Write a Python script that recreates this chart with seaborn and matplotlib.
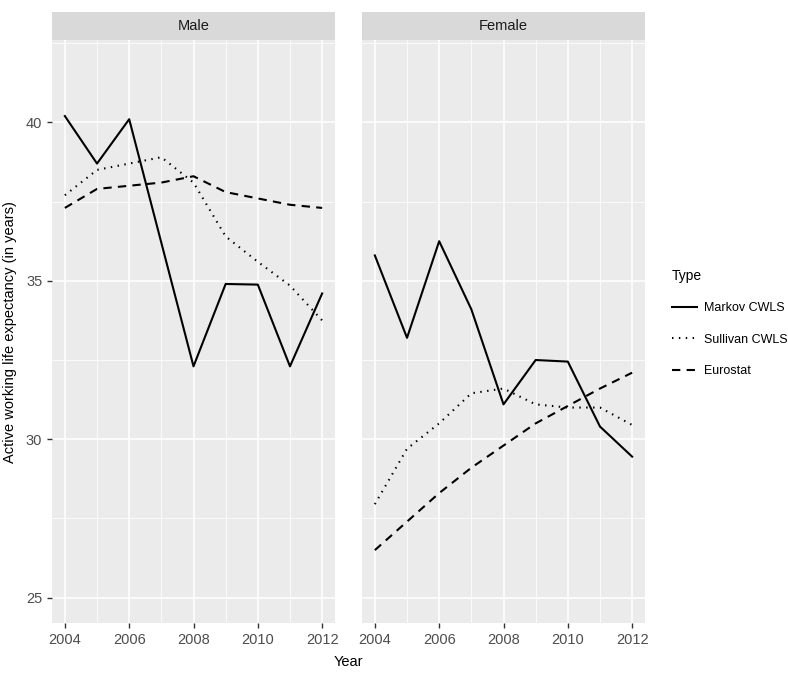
import numpy as np
import pandas as pd
import matplotlib
matplotlib.use('Agg')
import matplotlib.pyplot as plt
from matplotlib.patches import Rectangle
from matplotlib.ticker import MultipleLocator
import seaborn as sns

years = list(range(2004, 2013))
types = ['Markov CWLS', 'Sullivan CWLS', 'Eurostat']

male_markov = [40.2, 38.7, 40.1, 36.2, 32.3, 34.9, 34.88, 32.3, 34.6]
male_sullivan = [37.7, 38.5, 38.7, 38.9, 38.1, 36.4, 35.6, 34.85, 33.75]
male_eurostat = [37.3, 37.9, 38.0, 38.1, 38.3, 37.8, 37.6, 37.4, 37.3]

female_markov = [35.8, 33.2, 36.25, 34.1, 31.1, 32.5, 32.45, 30.4, 29.45]
female_sullivan = [27.95, 29.7, 30.5, 31.45, 31.6, 31.1, 31.0, 31.0, 30.45]
female_eurostat = [26.5, 27.4, 28.3, 29.1, 29.8, 30.5, 31.05, 31.6, 32.1]

rows = []
for sex, series in [('Male', [male_markov, male_sullivan, male_eurostat]),
                    ('Female', [female_markov, female_sullivan, female_eurostat])]:
    for t, vals in zip(types, series):
        for y, v in zip(years, vals):
            rows.append({'Sex': sex, 'Type': t, 'Year': y, 'Value': v})
df = pd.DataFrame(rows)

plt.rcParams['font.family'] = ['Liberation Sans', 'DejaVu Sans']

fig, axes = plt.subplots(1, 2, figsize=(7.88, 6.74), dpi=100, sharey=True)
fig.subplots_adjust(left=52/788, right=645/788, top=1-40/674, bottom=1-623/674,
                    wspace=27/283)

dashes = {'Markov CWLS': '', 'Sullivan CWLS': (0.7, 2.6), 'Eurostat': (4, 3)}

for ax, sex in zip(axes, ['Male', 'Female']):
    sub = df[df['Sex'] == sex]
    sns.lineplot(data=sub, x='Year', y='Value', style='Type', style_order=types,
                 dashes=dashes, color='black', lw=1.5, ax=ax, legend=(sex == 'Female'))
    ax.set_facecolor('#EBEBEB')
    for s in ax.spines.values():
        s.set_visible(False)
    ax.set_xlim(2003.6, 2012.4)
    ax.set_ylim(24.2, 42.6)
    ax.xaxis.set_major_locator(MultipleLocator(2))
    ax.xaxis.set_minor_locator(MultipleLocator(1))
    ax.yaxis.set_major_locator(MultipleLocator(5))
    ax.yaxis.set_minor_locator(MultipleLocator(2.5))
    ax.grid(which='major', color='white', lw=1.1)
    ax.grid(which='minor', color='white', lw=0.55)
    ax.set_axisbelow(True)
    ax.tick_params(which='major', length=3.5, width=1, color='#333333',
                   labelsize=10.5, labelcolor='#4D4D4D')
    ax.tick_params(which='minor', length=0)
    ax.set_xlabel('')
    ax.set_ylabel('')
    ax.add_patch(Rectangle((0, 1), 1, 28/583, transform=ax.transAxes,
                           facecolor='#D9D9D9', edgecolor='none', clip_on=False))
    ax.text(0.5, 1 + 14/583, sex, transform=ax.transAxes, ha='center', va='center',
            fontsize=10.5, color='#1A1A1A')

axes[1].tick_params(axis='y', which='major', length=0)

leg = axes[1].legend(title='Type', loc='upper left', bbox_to_anchor=(1.095, 0.607),
                     frameon=False, fontsize=9, title_fontsize=10,
                     handlelength=2.0, handletextpad=0.55, labelspacing=1.55,
                     borderpad=0, borderaxespad=0)
leg._legend_box.align = 'left'

fig.text(348/788, 1-662/674, 'Year', ha='center', va='center', fontsize=10.5, color='black')
fig.text(10/788, 1-332/674, 'Active working life expectancy (in years)', ha='center',
         va='center', rotation=90, fontsize=10.5, color='black')

fig.savefig('out.png', dpi=100)
